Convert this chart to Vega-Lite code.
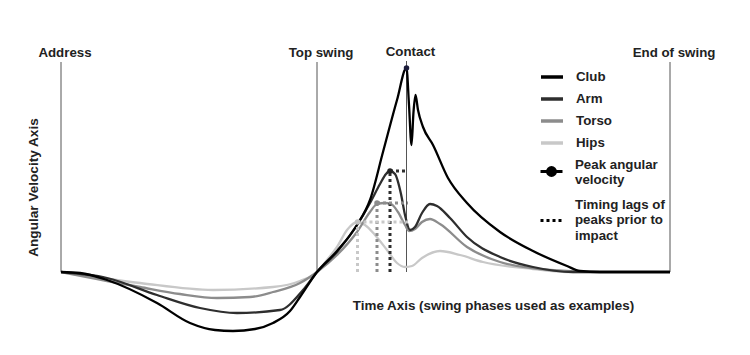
{
  "$schema": "https://vega.github.io/schema/vega-lite/v6.json",
  "width": 750,
  "height": 355,
  "autosize": {"type": "fit", "contains": "padding"},
  "padding": 0,
  "background": "white",
  "config": {"view": {"stroke": null}, "font": "Liberation Sans"},
  "datasets": {
    "phases": [
      {"label": "Address", "t": 61, "top": 210},
      {"label": "Top swing", "t": 317, "top": 210},
      {"label": "Contact", "t": 406.5, "top": 211},
      {"label": "End of swing", "t": 670, "top": 210}
    ],
    "curves": [
      {"series": "Hips", "t": 61, "v": 0}, {"series": "Hips", "t": 140, "v": -11}, {"series": "Hips", "t": 213, "v": -18}, {"series": "Hips", "t": 273, "v": -15}, {"series": "Hips", "t": 300, "v": -9}, {"series": "Hips", "t": 317, "v": 0}, {"series": "Hips", "t": 327, "v": 12}, {"series": "Hips", "t": 337, "v": 25}, {"series": "Hips", "t": 347, "v": 42}, {"series": "Hips", "t": 357.5, "v": 50}, {"series": "Hips", "t": 365, "v": 47}, {"series": "Hips", "t": 375, "v": 37}, {"series": "Hips", "t": 387, "v": 22}, {"series": "Hips", "t": 397, "v": 9}, {"series": "Hips", "t": 405, "v": 5}, {"series": "Hips", "t": 412, "v": 6}, {"series": "Hips", "t": 422, "v": 14}, {"series": "Hips", "t": 440, "v": 21}, {"series": "Hips", "t": 460, "v": 17}, {"series": "Hips", "t": 483, "v": 10}, {"series": "Hips", "t": 533, "v": 3}, {"series": "Hips", "t": 567, "v": 0}, {"series": "Hips", "t": 670, "v": 0},
      {"series": "Torso", "t": 61, "v": 0}, {"series": "Torso", "t": 140, "v": -15}, {"series": "Torso", "t": 180, "v": -22}, {"series": "Torso", "t": 217, "v": -26}, {"series": "Torso", "t": 250, "v": -25}, {"series": "Torso", "t": 273, "v": -20}, {"series": "Torso", "t": 300, "v": -11}, {"series": "Torso", "t": 317, "v": 0}, {"series": "Torso", "t": 337, "v": 17}, {"series": "Torso", "t": 357, "v": 40}, {"series": "Torso", "t": 370, "v": 60}, {"series": "Torso", "t": 377, "v": 68}, {"series": "Torso", "t": 385, "v": 69}, {"series": "Torso", "t": 391, "v": 68}, {"series": "Torso", "t": 398, "v": 60}, {"series": "Torso", "t": 405, "v": 47}, {"series": "Torso", "t": 409, "v": 41}, {"series": "Torso", "t": 415, "v": 43}, {"series": "Torso", "t": 422, "v": 50}, {"series": "Torso", "t": 430, "v": 53}, {"series": "Torso", "t": 440, "v": 48}, {"series": "Torso", "t": 467, "v": 25}, {"series": "Torso", "t": 500, "v": 10}, {"series": "Torso", "t": 550, "v": 2}, {"series": "Torso", "t": 600, "v": 0}, {"series": "Torso", "t": 670, "v": 0},
      {"series": "Arm", "t": 61, "v": 0}, {"series": "Arm", "t": 107, "v": -6}, {"series": "Arm", "t": 157, "v": -23}, {"series": "Arm", "t": 200, "v": -36}, {"series": "Arm", "t": 237, "v": -41}, {"series": "Arm", "t": 280, "v": -38}, {"series": "Arm", "t": 303, "v": -18}, {"series": "Arm", "t": 317, "v": 0}, {"series": "Arm", "t": 337, "v": 20}, {"series": "Arm", "t": 357, "v": 47}, {"series": "Arm", "t": 370, "v": 69}, {"series": "Arm", "t": 380, "v": 88}, {"series": "Arm", "t": 386, "v": 98}, {"series": "Arm", "t": 390, "v": 101}, {"series": "Arm", "t": 395, "v": 98}, {"series": "Arm", "t": 401, "v": 78}, {"series": "Arm", "t": 405, "v": 57}, {"series": "Arm", "t": 410, "v": 42}, {"series": "Arm", "t": 415, "v": 45}, {"series": "Arm", "t": 422, "v": 59}, {"series": "Arm", "t": 430, "v": 68}, {"series": "Arm", "t": 437, "v": 66}, {"series": "Arm", "t": 450, "v": 54}, {"series": "Arm", "t": 467, "v": 35}, {"series": "Arm", "t": 500, "v": 15}, {"series": "Arm", "t": 533, "v": 5}, {"series": "Arm", "t": 573, "v": 0}, {"series": "Arm", "t": 670, "v": 0},
      {"series": "Club", "t": 61, "v": 0}, {"series": "Club", "t": 80, "v": -1}, {"series": "Club", "t": 107, "v": -8}, {"series": "Club", "t": 157, "v": -31}, {"series": "Club", "t": 190, "v": -51}, {"series": "Club", "t": 215, "v": -58}, {"series": "Club", "t": 233, "v": -59}, {"series": "Club", "t": 255, "v": -57}, {"series": "Club", "t": 273, "v": -51}, {"series": "Club", "t": 290, "v": -39}, {"series": "Club", "t": 300, "v": -25}, {"series": "Club", "t": 317, "v": 0}, {"series": "Club", "t": 337, "v": 21}, {"series": "Club", "t": 357, "v": 47}, {"series": "Club", "t": 370, "v": 72}, {"series": "Club", "t": 383, "v": 120}, {"series": "Club", "t": 397, "v": 172}, {"series": "Club", "t": 406.5, "v": 204}, {"series": "Club", "t": 409, "v": 167}, {"series": "Club", "t": 411.5, "v": 127}, {"series": "Club", "t": 413.5, "v": 160}, {"series": "Club", "t": 415.5, "v": 177}, {"series": "Club", "t": 418, "v": 162}, {"series": "Club", "t": 423, "v": 145}, {"series": "Club", "t": 433, "v": 127}, {"series": "Club", "t": 448, "v": 94}, {"series": "Club", "t": 467, "v": 69}, {"series": "Club", "t": 500, "v": 40}, {"series": "Club", "t": 533, "v": 21}, {"series": "Club", "t": 567, "v": 6}, {"series": "Club", "t": 580, "v": 1}, {"series": "Club", "t": 600, "v": 0}, {"series": "Club", "t": 670, "v": 0}
    ],
    "lags": [
      {"series": "Hips", "t": 357.5, "v": 50},
      {"series": "Torso", "t": 377, "v": 69},
      {"series": "Arm", "t": 390, "v": 101}
    ],
    "peaks": [
      {"series": "Hips", "t": 357.5, "v": 50},
      {"series": "Torso", "t": 377, "v": 69},
      {"series": "Arm", "t": 390, "v": 101},
      {"series": "Club", "t": 406.5, "v": 204}
    ]
  },
  "encoding": {
    "x": {
      "field": "t", "type": "quantitative",
      "scale": {"domain": [0, 750], "nice": false, "zero": false},
      "axis": {"title": "Time Axis (swing phases used as examples)", "domain": false, "ticks": false, "labels": false, "grid": false, "titleX": 493, "titleY": -50, "titleBaseline": "middle", "titleFont": "Liberation Sans", "titleFontWeight": "bold", "titleFontSize": 13.4, "titleColor": "#222"}
    },
    "y": {
      "field": "v", "type": "quantitative",
      "scale": {"domain": [-83, 272], "nice": false, "zero": false},
      "axis": {"title": "Angular Velocity Axis", "domain": false, "ticks": false, "labels": false, "grid": false, "titleX": 33, "titleY": 187, "titleBaseline": "middle", "titleFont": "Liberation Sans", "titleFontWeight": "bold", "titleFontSize": 13.6, "titleColor": "#222"}
    }
  },
  "layer": [
    {
      "mark": {"type": "rule", "color": "#555", "strokeWidth": 1.5},
      "encoding": {"x": {"datum": 61}, "x2": {"datum": 671}, "y": {"datum": 0}}
    },
    {
      "data": {"name": "phases"},
      "mark": {"type": "rule", "color": "#555", "strokeWidth": 1},
      "encoding": {"y": {"field": "top", "type": "quantitative"}, "y2": {"datum": 0}}
    },
    {
      "data": {"name": "phases"},
      "mark": {"type": "text", "font": "Liberation Sans", "fontWeight": "bold", "fontSize": 13.3, "color": "#222", "dy": -9, "dx": 4, "baseline": "middle"},
      "encoding": {"y": {"field": "top", "type": "quantitative"}, "text": {"field": "label"}}
    },
    {
      "data": {"name": "curves"},
      "mark": {"type": "line", "interpolate": "monotone", "strokeWidth": 2.3},
      "encoding": {
        "color": {
          "field": "series", "type": "nominal",
          "scale": {"domain": ["Club", "Arm", "Torso", "Hips"], "range": ["#000000", "#2e2e2e", "#8c8c8c", "#c8c8c8"]},
          "legend": {"orient": "none", "legendX": 539, "legendY": 64, "title": null, "symbolType": "stroke", "symbolSize": 484, "symbolStrokeWidth": 3.5, "labelFont": "Liberation Sans", "labelFontWeight": "bold", "labelFontSize": 13.3, "labelColor": "#222", "labelOffset": 11, "rowPadding": 2, "padding": 0}
        }
      }
    },
    {
      "data": {"name": "lags"},
      "mark": {"type": "rule", "strokeWidth": 3},
      "encoding": {
        "y": {"datum": 0}, "y2": {"field": "v"},
        "color": {"field": "series", "type": "nominal"},
        "strokeDash": {
          "datum": "Timing lags of peaks prior to impact",
          "scale": {"range": [[3, 3]]},
          "legend": {"orient": "none", "legendX": 539, "legendY": 208, "title": null, "symbolType": "stroke", "symbolSize": 484, "symbolStrokeColor": "#000", "symbolStrokeWidth": 3, "labelExpr": "['Timing lags of', 'peaks prior to', 'impact']", "labelFont": "Liberation Sans", "labelFontWeight": "bold", "labelFontSize": 13.3, "labelColor": "#222", "labelOffset": 11, "padding": 0, "encode": {"labels": {"update": {"lineHeight": {"value": 15.5}, "dy": {"value": -16}}}}}
        }
      }
    },
    {
      "data": {"name": "lags"},
      "mark": {"type": "rule", "strokeWidth": 3},
      "encoding": {
        "x2": {"datum": 408},
        "color": {"field": "series", "type": "nominal"},
        "strokeDash": {"datum": "Timing lags of peaks prior to impact"}
      }
    },
    {
      "data": {"name": "peaks"},
      "mark": {"type": "point", "filled": true, "size": 30, "color": "#000"},
      "encoding": {
        "fill": {
          "field": "series", "type": "nominal",
          "scale": {"domain": ["Club", "Arm", "Torso", "Hips"], "range": ["#1b1b3a", "#222222", "#8c8c8c", "#c0c0c0"]},
          "legend": null
        },
        "opacity": {
          "datum": "Peak angular velocity",
          "scale": {"range": [1]},
          "legend": {"orient": "none", "legendX": 539, "legendY": 159, "title": null, "symbolType": "M-1,0L1,0M-0.36,0A0.36,0.36,0,1,0,0.36,0A0.36,0.36,0,1,0,-0.36,0Z", "symbolSize": 484, "symbolFillColor": "#000", "symbolStrokeColor": "#000", "symbolStrokeWidth": 3, "labelExpr": "['Peak angular', 'velocity']", "labelFont": "Liberation Sans", "labelFontWeight": "bold", "labelFontSize": 13.3, "labelColor": "#222", "labelOffset": 11, "padding": 0, "encode": {"symbols": {"update": {"fill": {"value": "#000"}, "stroke": {"value": "#000"}}}, "labels": {"update": {"lineHeight": {"value": 15.5}, "dy": {"value": -7}}}}}
        }
      }
    }
  ]
}
